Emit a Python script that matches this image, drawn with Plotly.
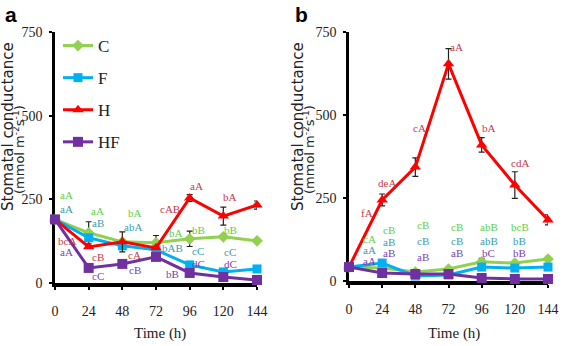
import plotly.graph_objects as go

hours = [0, 24, 48, 72, 96, 120, 144]
series_names = ["C", "F", "H", "HF"]

# Panel a values
a_C = [190, 150, 123, 120, 132, 138, 126]
a_F = [190, 135, 111, 99, 54, 33, 42]
a_H = [190, 108, 123, 105, 254, 200, 233]
a_HF = [190, 45, 57, 78, 30, 18, 9]
a_C_err = [0, 33, 0, 22, 23, 0, 0]
a_F_err = [0, 0, 0, 0, 0, 0, 0]
a_H_err = [0, 0, 30, 0, 10, 27, 12]
a_HF_err = [0, 0, 0, 0, 0, 0, 0]

# Panel b values
b_C = [42, 39, 27, 36, 58, 54, 66]
b_F = [42, 54, 15, 18, 42, 39, 42]
b_H = [42, 244, 343, 654, 410, 289, 184]
b_HF = [42, 24, 21, 21, 9, 6, 6]
b_C_err = [0, 0, 0, 0, 10, 0, 0]
b_F_err = [0, 0, 0, 0, 0, 0, 0]
b_H_err = [0, 18, 28, 46, 22, 40, 15]
b_HF_err = [0, 0, 0, 0, 0, 0, 0]

# Significance letters
a_C_lab = ["aA", "aA", "bA", "bA", "bB", "bB", "bB"]
a_F_lab = ["aA", "aB", "abA", "bAB", "cC", "cC", "cC"]
a_H_lab = ["bcA", "cB", "cA", "cAB", "aA", "bA", "abA"]
a_HF_lab = ["aA", "cC", "cB", "bB", "dC", "dC", "dD"]
b_C_lab = ["cA", "cB", "cB", "cB", "abB", "bcB", "aB"]
b_F_lab = ["aA", "aB", "cB", "cB", "abB", "bB", "abC"]
b_H_lab = ["fA", "deA", "cA", "aA", "bA", "cdA", "eA"]
b_HF_lab = ["aA", "aB", "aB", "aB", "bC", "bB", "bD"]

# Letter placement (data units)
a_C_lx = [8.5, 30.6, 57, 86, 102, 125, 153]
a_C_ly = [264, 215, 210, 150, 159, 159, 126]
a_F_lx = [8.5, 30.6, 55.6, 84, 102, 125, 153]
a_F_ly = [221, 180, 168, 105, 96, 93, 48]
a_H_lx = [8.5, 31, 57, 82, 101, 125, 151]
a_H_ly = [126, 78, 84, 221, 290, 257, 233]
a_HF_lx = [8.5, 30.6, 57, 84, 102, 125, 153]
a_HF_ly = [93, 21, 39, 27, 57, 57, 21]

b_C_lx = [15, 29, 53.5, 78, 101, 123.6, 153]
b_C_ly = [128, 154, 169, 163, 163, 163, 93]
b_F_lx = [14.5, 29, 53.5, 78, 101, 123.6, 150]
b_F_ly = [93, 117, 120, 120, 120, 120, 45]
b_H_lx = [13, 27.5, 51, 78, 101, 123.6, 152.5]
b_H_ly = [205, 295, 461, 705, 461, 355, 187]
b_HF_lx = [14.5, 29, 53.5, 78, 101, 123.6, 151]
b_HF_ly = [60, 84, 72, 84, 84, 84, 9]

y_ticks = [0, 250, 500, 750]

line_colors = {"C": "#92d050", "F": "#00b0f0", "H": "#ff0000", "HF": "#7030a0"}
label_colors = {"C": "#5fcf45", "F": "#3c9dad", "H": "#c8384a", "HF": "#7a3fb0"}
symbols = {"C": "diamond", "F": "square", "H": "triangle-up", "HF": "square"}
msize = {"C": 9, "F": 9, "H": 10, "HF": 10}

SERIF = "Liberation Serif, Times New Roman, serif"
SANS = "DejaVu Sans, Verdana, sans-serif"

panel_a = {
    "C": (a_C, a_C_err, a_C_lab, a_C_lx, a_C_ly),
    "F": (a_F, a_F_err, a_F_lab, a_F_lx, a_F_ly),
    "H": (a_H, a_H_err, a_H_lab, a_H_lx, a_H_ly),
    "HF": (a_HF, a_HF_err, a_HF_lab, a_HF_lx, a_HF_ly),
}
panel_b = {
    "C": (b_C, b_C_err, b_C_lab, b_C_lx, b_C_ly),
    "F": (b_F, b_F_err, b_F_lab, b_F_lx, b_F_ly),
    "H": (b_H, b_H_err, b_H_lab, b_H_lx, b_H_ly),
    "HF": (b_HF, b_HF_err, b_HF_lab, b_HF_lx, b_HF_ly),
}

fig = go.Figure()
annotations = []

for panel, (xa, ya, show) in [(panel_a, ("x", "y", True)), (panel_b, ("x2", "y2", False))]:
    for name in series_names:
        vals, err, labs, lx, ly = panel[name]
        fig.add_trace(go.Scatter(
            x=hours, y=vals, name=name, xaxis=xa, yaxis=ya,
            mode="lines+markers", showlegend=show, legendgroup=name,
            line=dict(color=line_colors[name], width=3),
            marker=dict(symbol=symbols[name], size=msize[name], color=line_colors[name]),
            error_y=dict(type="data", array=err, visible=True, color="#222222",
                         thickness=1.2, width=3),
            cliponaxis=False,
        ))
        for t, px, py in zip(labs, lx, ly):
            annotations.append(dict(
                x=px, y=py, xref=xa, yref=ya, text=t, showarrow=False,
                xanchor="center", yanchor="middle",
                font=dict(family=SERIF, size=11, color=label_colors[name]),
            ))

axis_common = dict(
    showline=True, linecolor="black", showgrid=False, zeroline=False,
    ticks="outside", tickcolor="black", ticklen=3, tickwidth=2,
    tickfont=dict(family=SERIF, size=14, color="#222"),
    layer="below traces", automargin=False,
)

fig.update_layout(
    width=567, height=346,
    margin=dict(l=0, r=0, t=0, b=0, pad=0),
    paper_bgcolor="white", plot_bgcolor="white",
    xaxis=dict(domain=[55 / 567, 257 / 567], range=[0, 144], tickvals=hours,
               linewidth=4, anchor="y", ticklabelstandoff=9, **axis_common),
    yaxis=dict(domain=[1 - 283 / 346, 1 - 32 / 346], range=[0, 750], tickvals=y_ticks,
               linewidth=2.5, anchor="x", ticklabelstandoff=4, **axis_common),
    xaxis2=dict(domain=[349 / 567, 548 / 567], range=[0, 144], tickvals=hours,
                linewidth=4, anchor="y2", ticklabelstandoff=9, **axis_common),
    yaxis2=dict(domain=[1 - 281 / 346, 1 - 32 / 346], range=[0, 750], tickvals=y_ticks,
                linewidth=2.5, anchor="x2", ticklabelstandoff=4, **axis_common),
    legend=dict(x=58 / 567, y=1 - 28 / 346, xanchor="left", yanchor="top",
                font=dict(family=SERIF, size=17, color="#222"),
                tracegroupgap=7, bgcolor="rgba(0,0,0,0)"),
    showlegend=True,
)

# Axis titles, panel letters
for x0, x1, xt in [(8, 19, 160), (298, 309, 454)]:
    annotations.append(dict(x=x0 / 567, y=1 - 127 / 346, xref="paper", yref="paper",
                            text="Stomatal conductance", textangle=-90, showarrow=False,
                            xanchor="center", yanchor="middle",
                            font=dict(family=SANS, size=15, color="#222")))
    annotations.append(dict(x=x1 / 567, y=1 - 150 / 346, xref="paper", yref="paper",
                            text="(mmol m<sup>-2</sup>s<sup>-1</sup>)", textangle=-90,
                            showarrow=False, xanchor="center", yanchor="middle",
                            font=dict(family=SANS, size=13, color="#222")))
    annotations.append(dict(x=xt / 567, y=1 - 333 / 346, xref="paper", yref="paper",
                            text="Time (h)", showarrow=False,
                            xanchor="center", yanchor="middle",
                            font=dict(family=SERIF, size=15, color="#222")))

annotations.append(dict(x=11 / 567, y=1 - 14 / 346, xref="paper", yref="paper", text="<b>a</b>",
                        showarrow=False, xanchor="center", yanchor="middle",
                        font=dict(family="Liberation Sans, Arial, sans-serif", size=21, color="black")))
annotations.append(dict(x=301 / 567, y=1 - 14 / 346, xref="paper", yref="paper", text="<b>b</b>",
                        showarrow=False, xanchor="center", yanchor="middle",
                        font=dict(family="Liberation Sans, Arial, sans-serif", size=21, color="black")))

fig.update_layout(annotations=annotations)
fig.write_html("out.html", config={"displayModeBar": False})

# remove default body margin so the figure sits at the window's top-left corner
with open("out.html", "r", encoding="utf-8") as f:
    html = f.read()
html = html.replace("<head>", "<head><style>html,body{margin:0;padding:0;overflow:hidden}</style>", 1)
with open("out.html", "w", encoding="utf-8") as f:
    f.write(html)
